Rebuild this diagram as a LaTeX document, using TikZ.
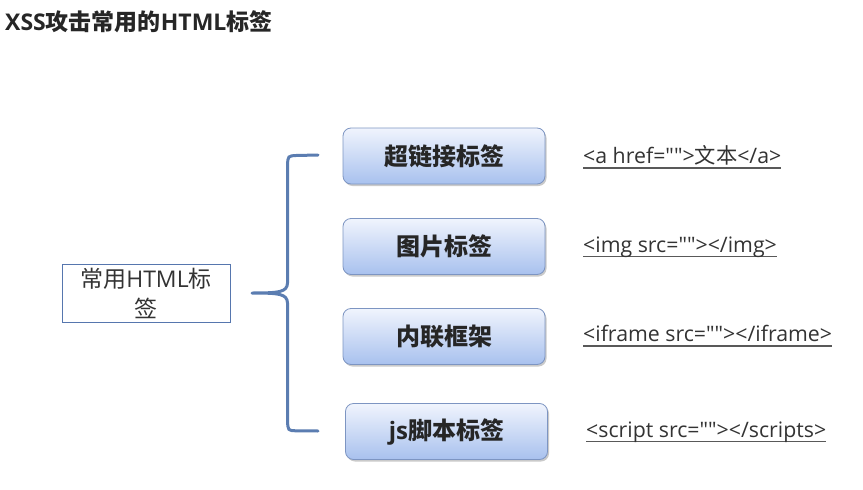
\documentclass[tikz,border=0pt]{standalone}
\usepackage{fontspec}
\setmainfont{Noto Sans CJK SC}
\newfontfamily\lat{Open Sans}
\usetikzlibrary{shadows}
\definecolor{bracecol}{HTML}{5B7DB1}
\definecolor{boxborder}{HTML}{7D95C2}
\definecolor{boxtop}{HTML}{F0F4FD}
\definecolor{boxbot}{HTML}{A8C1EE}
\definecolor{lefttxt}{HTML}{333333}
\definecolor{leftborder}{HTML}{5676AE}
\tikzset{
  tagbox/.style={draw=boxborder, line width=0.8pt, rounded corners=8pt,
    top color=boxtop, bottom color=boxbot, minimum width=202pt, minimum height=56pt,
    font=\fontsize{24pt}{28pt}\selectfont\bfseries, text=black!85,
    drop shadow={shadow xshift=1.5pt, shadow yshift=-2pt, opacity=0.35, fill=black!60}},
  codetxt/.style={anchor=west, font=\fontsize{21.3pt}{24pt}\selectfont, text=black!80, inner sep=0pt},
  leftbox/.style={draw=leftborder, line width=1pt, minimum width=168pt, minimum height=58pt,
    align=center, font=\fontsize{23pt}{30pt}\selectfont, text=lefttxt, inner sep=0pt},
}
\newcommand{\ul}[1]{\setbox0\hbox{#1}\rlap{\raisebox{-5pt}{\color{black!65}\rule{\wd0}{1.5pt}}}\box0}
\newcommand{\qq}{\symbol{"22}\symbol{"22}}
\begin{document}
\begin{tikzpicture}[x=1pt,y=-1pt]
\useasboundingbox (0,0) rectangle (863,490);
\node[anchor=west, font=\fontsize{23pt}{26pt}\selectfont\bfseries, text=black!85, inner sep=0pt] (title) at (5,22) {{\lat XSS}攻击常用的{\lat HTML}标签};
\node[leftbox, text width=164pt] (root) at (146,293) {常用{\lat HTML}标\\签};
\node[tagbox] (b1) at (444,156) {超链接标签};
\node[tagbox] (b2) at (444,246.5) {图片标签};
\node[tagbox] (b3) at (444,336.5) {内联框架};
\node[tagbox] (b4) at (446.5,431.5) {{\lat js}脚本标签};
\node[codetxt] (c1) at (583,157) {\ul{{\lat <a href=\qq>}文本{\lat </a>}}};
\node[codetxt] (c2) at (583,247) {\ul{\lat <img src=\qq></img>}};
\node[codetxt] (c3) at (583,336) {\ul{\lat <iframe src=\qq></iframe>}};
\node[codetxt] (c4) at (586,432) {\ul{\lat <script src=\qq></scripts>}};
\coordinate (btop) at (318,155);
\coordinate (bbot) at (318,431);
\coordinate (btip) at (252,293);
\draw[bracecol, line width=3pt, line cap=round]
  (btop) -- (296,155.5) .. controls (288,156) .. (287.5,165)
  -- (287.5,283) .. controls (287,292) and (280,293) .. (btip)
  (btip) .. controls (280,293) and (287,294) .. (287.5,303)
  -- (287.5,421) .. controls (288,430.5) .. (296,430.8) -- (bbot);
\end{tikzpicture}
\end{document}
